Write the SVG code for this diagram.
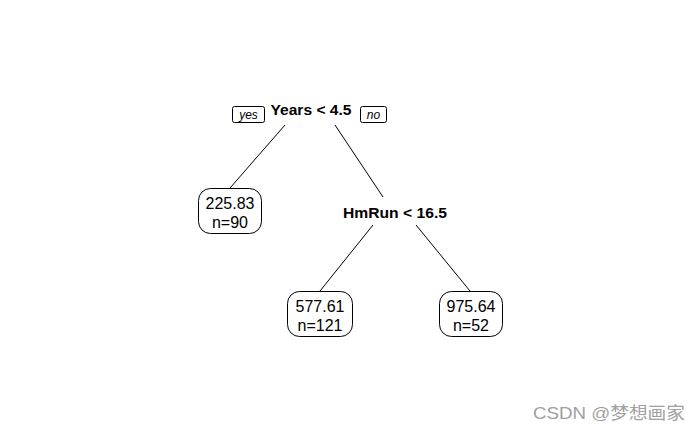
<svg xmlns="http://www.w3.org/2000/svg" width="700" height="432" viewBox="0 0 700 432">
<style>
.split{font-family:"Liberation Sans",Arial,sans-serif;font-weight:bold;font-size:15px;fill:#000;text-anchor:middle}
.leaf rect{fill:#fff;stroke:#000;stroke-width:1}
.leaf text{font-family:"Liberation Sans",Arial,sans-serif;font-size:16px;fill:#000;text-anchor:middle}
.lbl rect{fill:#fff;stroke:#000;stroke-width:1}
.lbl text{font-family:"Liberation Sans",Arial,sans-serif;font-style:italic;font-size:12px;fill:#000;text-anchor:middle}
.edge{stroke:#000;stroke-width:1;fill:none}
.wm{font-family:"Liberation Sans","Noto Sans CJK SC",sans-serif;font-size:17px;fill:#a0a0a0}
</style>
<rect width="700" height="432" fill="#fff"/>
<g id="connectors">
<line class="edge" x1="285" y1="125" x2="230" y2="188"/>
<line class="edge" x1="335" y1="125" x2="383" y2="197"/>
<line class="edge" x1="373" y1="225" x2="320" y2="291"/>
<line class="edge" x1="416" y1="225" x2="470" y2="291"/>
</g>
<g id="node-years">
<text class="split" x="311" y="115" textLength="81" lengthAdjust="spacingAndGlyphs">Years &lt; 4.5</text>
</g>
<g id="label-yes" class="lbl">
<rect x="232.5" y="106.5" width="32" height="16" rx="2"/>
<text x="248.5" y="119">yes</text>
</g>
<g id="label-no" class="lbl">
<rect x="360.5" y="106.5" width="26" height="16" rx="2"/>
<text x="373.5" y="119">no</text>
</g>
<g id="node-hmrun">
<text class="split" x="395" y="218" textLength="104" lengthAdjust="spacingAndGlyphs">HmRun &lt; 16.5</text>
</g>
<g id="leaf-1" class="leaf">
<rect x="198.5" y="188.5" width="63" height="45" rx="12"/>
<text x="230" y="209">225.83</text>
<text x="230" y="228">n=90</text>
</g>
<g id="leaf-2" class="leaf">
<rect x="287.5" y="291.5" width="65" height="45" rx="12"/>
<text x="320" y="312">577.61</text>
<text x="320" y="331">n=121</text>
</g>
<g id="leaf-3" class="leaf">
<rect x="439.5" y="291.5" width="63" height="45" rx="12"/>
<text x="471" y="312">975.64</text>
<text x="471" y="331">n=52</text>
</g>
<text class="wm" x="533" y="419" textLength="152" lengthAdjust="spacingAndGlyphs">CSDN @梦想画家</text>
</svg>
